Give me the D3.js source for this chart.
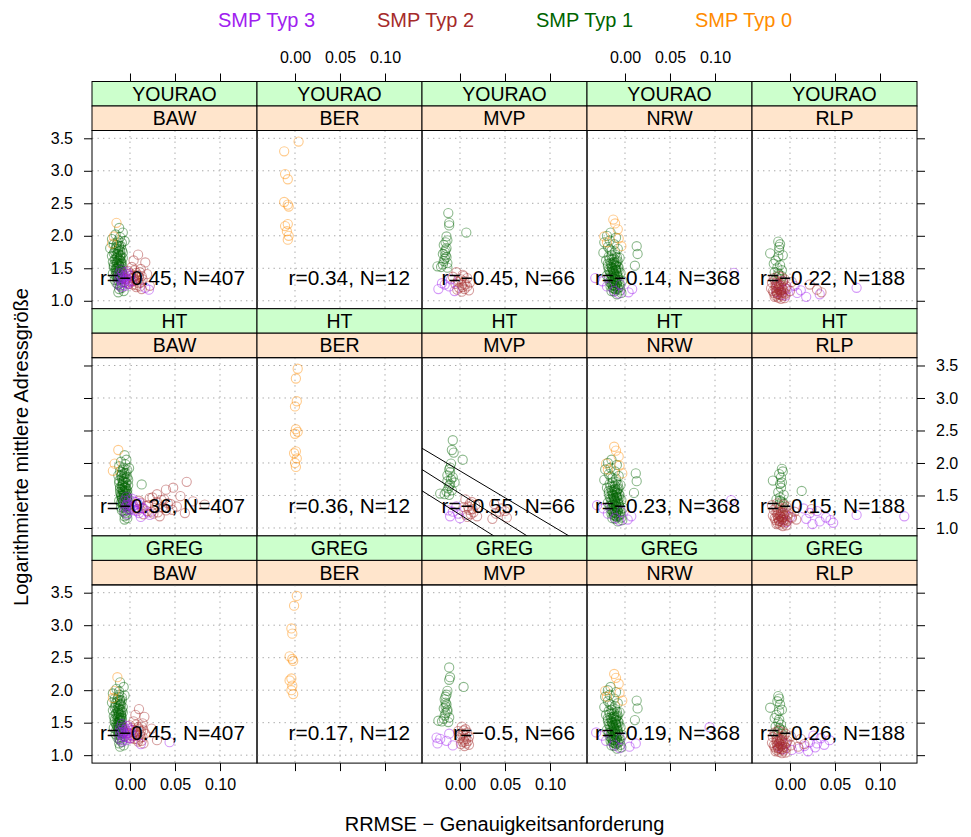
<!DOCTYPE html>
<html><head><meta charset="utf-8">
<script src="https://cdn.jsdelivr.net/npm/d3@7/dist/d3.min.js"></script>
<style>
body{margin:0;background:#fff}
text{font-family:"Liberation Sans",Arial,Helvetica,sans-serif;fill:#000}
</style>
</head><body>
<svg id="chart" width="971" height="837"></svg>
<script>
// ---- categories ----
const states = ["BAW", "BER", "MVP", "NRW", "RLP"];
const methods = ["YOURAO", "HT", "GREG"];
const typeLabels = ["SMP Typ 3", "SMP Typ 2", "SMP Typ 1", "SMP Typ 0"];
const typeOfLabel = [3, 2, 1, 0];
const typeColors = {0: "#FF8C00", 1: "#006400", 2: "#A52A2A", 3: "#A020F0"};

// ---- tick labels ----
const xTicks = [0.00, 0.05, 0.10];
const yTicks = [1.0, 1.5, 2.0, 2.5, 3.0, 3.5];

// ---- correlation and domain counts per panel ----
const rYOURAO = [-0.45, 0.34, -0.45, -0.14, -0.22];
const rHT     = [-0.36, 0.36, -0.55, -0.23, -0.15];
const rGREG   = [-0.45, 0.17, -0.5, -0.19, -0.26];
const nDomains = [407, 12, 66, 368, 188];

// ---- reference lines in HT / MVP panel: intercept, slope ----
const mvpHtLines = [[1.878, -8.26], [1.530, -8.75], [1.205, -8.70]];

// ---- points: [SMP type, log mean address size, x YOURAO, x HT, x GREG] ----
const BAW = [
  [1,2.12,-0.012,-0.006,-0.011],[1,2.05,-0.008,-0.004,-0.007],[1,2.02,-0.016,-0.010,-0.015],
  [1,1.98,-0.011,-0.005,-0.012],[1,1.95,-0.020,-0.012,-0.019],[1,1.92,-0.006,-0.001,-0.006],
  [1,1.90,-0.014,-0.008,-0.013],[1,1.87,-0.018,-0.011,-0.017],[1,1.84,-0.010,-0.004,-0.009],
  [1,1.81,-0.022,-0.013,-0.020],[1,1.79,-0.013,-0.007,-0.012],[1,1.76,-0.017,-0.009,-0.016],
  [1,1.74,-0.008,-0.002,-0.008],[1,1.71,-0.015,-0.008,-0.014],[1,1.69,-0.020,-0.012,-0.019],
  [1,1.67,-0.011,0.013,-0.010],[1,1.65,-0.016,-0.009,-0.015],[1,1.62,-0.013,-0.006,-0.012],
  [1,1.60,-0.019,-0.011,-0.018],[1,1.58,-0.009,-0.003,-0.009],[1,1.56,-0.015,-0.008,-0.014],
  [1,1.54,-0.012,-0.005,-0.011],[1,1.52,-0.018,-0.010,-0.017],[1,1.50,-0.014,-0.007,-0.013],
  [1,1.48,-0.010,-0.003,-0.010],[1,1.46,-0.016,-0.009,-0.015],[1,1.44,-0.012,-0.006,-0.012],
  [1,1.42,-0.019,-0.012,-0.018],[1,1.40,-0.008,-0.002,-0.008],[1,1.38,-0.014,-0.008,-0.013],
  [1,1.35,-0.011,-0.005,-0.010],[1,1.32,-0.017,-0.010,-0.016],[1,1.29,-0.006,0.000,-0.006],
  [1,1.25,-0.013,-0.007,-0.012],[1,1.20,-0.009,-0.004,-0.009],[1,1.15,-0.007,-0.003,-0.007],
  [1,1.13,-0.013,-0.006,-0.011],
  [1,1.93,-0.013,-0.007,-0.012],[1,1.89,-0.009,-0.003,-0.009],[1,1.86,-0.015,-0.009,-0.014],
  [1,1.83,-0.012,-0.006,-0.011],[1,1.80,-0.016,-0.010,-0.016],[1,1.78,-0.009,-0.003,-0.010],
  [1,1.75,-0.013,-0.007,-0.013],[1,1.73,-0.018,-0.012,-0.017],[1,1.70,-0.011,-0.005,-0.011],
  [1,1.68,-0.014,-0.008,-0.013],[1,1.66,-0.008,-0.002,-0.008],[1,1.64,-0.012,-0.006,-0.012],
  [1,1.63,-0.017,-0.011,-0.016],[1,1.61,-0.010,-0.004,-0.010],[1,1.59,-0.014,-0.008,-0.013],
  [1,1.57,-0.012,-0.006,-0.011],[1,1.55,-0.018,-0.011,-0.017],[1,1.53,-0.009,-0.003,-0.009],
  [1,1.51,-0.013,-0.007,-0.012],[1,1.49,-0.016,-0.010,-0.016],[1,1.47,-0.011,-0.005,-0.011],
  [1,1.45,-0.014,-0.008,-0.013],[1,1.43,-0.009,-0.003,-0.009],[1,1.41,-0.013,-0.007,-0.012],
  [1,1.39,-0.016,-0.010,-0.015],[1,1.37,-0.011,-0.005,-0.010],[1,1.36,-0.007,-0.001,-0.007],
  [1,1.34,-0.014,-0.008,-0.013],[1,1.33,-0.010,-0.004,-0.009],[1,1.31,-0.013,-0.007,-0.012],
  [1,1.28,-0.010,-0.004,-0.010],[1,1.27,-0.015,-0.009,-0.014],[1,1.23,-0.011,-0.005,-0.011],
  [1,1.18,-0.012,-0.006,-0.012],
  [1,1.85,-0.012,-0.006,-0.011],[1,1.82,-0.015,-0.009,-0.014],[1,1.77,-0.011,-0.005,-0.011],
  [1,1.72,-0.013,-0.007,-0.012],[1,1.69,-0.010,-0.004,-0.009],[1,1.66,-0.014,-0.008,-0.013],
  [1,1.62,-0.011,-0.005,-0.010],[1,1.60,-0.015,-0.009,-0.014],[1,1.57,-0.010,-0.004,-0.010],
  [1,1.55,-0.013,-0.007,-0.012],[1,1.52,-0.011,-0.005,-0.011],[1,1.50,-0.015,-0.009,-0.014],
  [1,1.48,-0.012,-0.006,-0.012],[1,1.46,-0.009,-0.003,-0.009],[1,1.44,-0.015,-0.009,-0.014],
  [1,1.42,-0.011,-0.005,-0.011],[1,1.40,-0.014,-0.008,-0.013],[1,1.38,-0.010,-0.004,-0.010],
  [1,1.36,-0.013,-0.007,-0.012],[1,1.34,-0.008,-0.002,-0.008],
  [2,1.71,0.009,0.063,0.010],[2,1.62,0.004,0.048,0.006],[2,1.59,0.017,0.040,0.016],
  [2,1.52,0.002,0.030,0.004],[2,1.49,0.012,0.056,0.014],[2,1.46,-0.002,0.022,0.000],
  [2,1.43,0.007,0.035,0.009],[2,1.41,0.019,0.070,0.024],[2,1.39,0.001,0.012,0.003],
  [2,1.37,0.010,0.045,0.012],[2,1.36,0.004,0.083,0.006],[2,1.34,-0.004,0.018,-0.002],
  [2,1.33,0.014,0.052,0.017],[2,1.31,0.006,0.028,0.008],[2,1.29,0.000,0.008,0.002],
  [2,1.27,0.010,0.040,0.012],[2,1.25,0.003,0.024,0.005],[2,1.23,0.022,0.061,0.030],
  [2,1.21,0.007,0.015,0.009],[2,1.18,0.013,0.033,0.015],
  [2,1.47,0.005,0.025,0.007],[2,1.44,0.011,0.038,0.013],[2,1.42,0.000,0.010,0.002],
  [2,1.40,0.008,0.030,0.010],[2,1.38,0.013,0.042,0.015],[2,1.35,0.002,0.020,0.004],
  [2,1.32,0.009,0.036,0.011],[2,1.30,0.004,0.014,0.006],[2,1.28,0.012,0.047,0.014],
  [2,1.26,-0.001,0.019,0.001],[2,1.24,0.007,0.031,0.009],[2,1.22,0.011,0.026,0.013],
  [3,1.48,-0.010,-0.004,-0.009],[3,1.45,-0.004,0.002,-0.003],[3,1.42,-0.012,-0.006,-0.011],
  [3,1.40,-0.006,0.006,-0.005],[3,1.38,0.000,0.011,0.001],[3,1.36,-0.009,-0.002,-0.008],
  [3,1.34,-0.003,0.004,-0.002],[3,1.32,-0.011,-0.005,-0.010],[3,1.30,0.002,0.015,0.004],
  [3,1.28,-0.007,0.000,-0.006],[3,1.26,-0.002,0.008,0.000],[3,1.24,-0.009,0.020,-0.008],
  [3,1.20,0.017,0.022,0.044],[3,1.17,0.021,0.012,0.012],
  [3,1.44,-0.008,-0.001,-0.007],[3,1.41,-0.002,0.004,-0.001],[3,1.39,-0.010,-0.003,-0.009],
  [3,1.37,-0.005,0.009,-0.004],[3,1.35,-0.012,-0.004,-0.011],[3,1.33,-0.006,0.002,-0.005],
  [3,1.31,-0.001,0.013,0.000],[3,1.29,-0.009,-0.002,-0.008],[3,1.27,-0.004,0.005,-0.003],
  [3,1.25,-0.013,-0.006,-0.012],[3,1.23,-0.005,0.010,-0.004],[3,1.21,-0.010,-0.003,-0.009],
  [0,2.20,-0.015,-0.013,-0.014],[0,1.99,-0.018,-0.017,-0.017],[0,1.88,-0.020,-0.019,-0.019]
];
const BER = [
  [0,3.45,0.004,0.003,0.002],[0,3.30,-0.012,0.001,-0.001],[0,2.95,-0.011,0.002,-0.004],
  [0,2.87,-0.008,0.000,-0.003],[0,2.52,-0.012,0.001,-0.006],[0,2.48,-0.008,0.003,-0.003],
  [0,2.45,-0.007,0.000,-0.002],[0,2.18,-0.008,0.001,-0.004],[0,2.15,-0.011,-0.001,-0.006],
  [0,2.07,-0.009,0.002,-0.003],[0,2.00,-0.007,0.000,-0.004],[0,1.94,-0.008,0.001,-0.002]
];
const MVP = [
  [1,2.35,-0.013,-0.008,-0.012],[1,2.20,-0.012,-0.009,-0.011],[1,2.16,-0.012,-0.007,-0.012],
  [1,2.05,0.007,0.003,0.004],[1,1.99,-0.015,-0.010,-0.014],[1,1.93,-0.014,-0.011,-0.015],
  [1,1.90,-0.016,-0.012,-0.016],[1,1.86,-0.018,-0.011,-0.017],[1,1.81,-0.015,-0.014,-0.016],
  [1,1.78,-0.016,-0.008,-0.015],[1,1.72,-0.019,-0.014,-0.018],[1,1.70,-0.016,-0.006,-0.014],
  [1,1.65,-0.017,-0.012,-0.016],[1,1.61,-0.018,-0.013,-0.017],[1,1.58,-0.014,-0.009,-0.012],
  [1,1.53,-0.025,-0.022,-0.024],[1,1.52,-0.021,-0.017,-0.020],[1,1.51,-0.014,-0.012,-0.013],
  [1,1.75,-0.017,-0.010,-0.016],[1,1.67,-0.015,-0.011,-0.014],[1,1.56,-0.019,-0.015,-0.018],
  [2,1.44,-0.004,0.006,0.002],[2,1.40,0.003,0.013,0.006],[2,1.37,-0.008,0.038,-0.002],
  [2,1.35,0.008,0.017,0.008],[2,1.32,-0.002,0.004,0.001],[2,1.30,0.005,0.046,0.006],
  [2,1.28,0.011,0.010,0.010],[2,1.26,-0.005,0.050,0.000],[2,1.24,0.002,0.015,0.004],
  [2,1.22,0.008,0.040,0.009],[2,1.20,-0.001,0.007,0.003],[2,1.18,0.005,0.019,0.007],
  [2,1.16,0.010,0.052,0.010],[2,1.14,0.002,0.036,0.005],
  [2,1.38,0.004,0.011,0.004],[2,1.33,0.001,0.009,0.003],[2,1.29,-0.002,0.014,0.000],
  [2,1.25,0.006,0.044,0.007],[2,1.21,0.003,0.012,0.005],[2,1.17,-0.003,0.008,0.001],
  [3,1.33,-0.010,-0.004,-0.012],[3,1.27,-0.020,-0.013,-0.026],[3,1.25,-0.017,-0.008,-0.022],
  [3,1.22,-0.012,-0.002,-0.015],[3,1.18,-0.024,-0.011,-0.025],[3,1.15,-0.006,0.000,-0.008]
];
const NRW = [
  [1,2.05,-0.016,-0.015,-0.016],[1,2.00,-0.020,-0.019,-0.019],[1,1.97,-0.010,-0.009,-0.010],
  [1,1.93,-0.017,-0.016,-0.017],[1,1.90,-0.023,-0.022,-0.022],[1,1.87,-0.012,-0.011,-0.012],
  [1,1.84,0.013,0.012,0.013],[1,1.83,-0.019,-0.018,-0.019],[1,1.80,-0.008,-0.007,-0.008],
  [1,1.77,-0.015,-0.014,-0.015],[1,1.74,-0.024,-0.023,-0.023],[1,1.72,0.014,0.013,0.014],
  [1,1.71,-0.011,-0.010,-0.011],[1,1.68,-0.018,-0.017,-0.018],[1,1.66,-0.006,-0.005,-0.006],
  [1,1.64,-0.014,-0.013,-0.014],[1,1.62,-0.021,-0.020,-0.021],[1,1.60,-0.009,-0.008,-0.009],
  [1,1.58,-0.016,-0.015,-0.016],[1,1.56,-0.012,-0.011,-0.012],[1,1.54,0.011,0.010,0.011],
  [1,1.53,-0.019,-0.018,-0.019],[1,1.51,-0.007,-0.006,-0.007],[1,1.49,-0.014,-0.013,-0.014],
  [1,1.47,-0.010,-0.009,-0.010],[1,1.45,-0.017,-0.016,-0.017],[1,1.43,-0.005,-0.004,-0.005],
  [1,1.41,-0.012,-0.011,-0.012],[1,1.39,-0.020,-0.019,-0.020],[1,1.37,-0.008,-0.007,-0.008],
  [1,1.35,-0.015,-0.014,-0.015],[1,1.33,-0.011,-0.010,-0.011],[1,1.31,-0.003,-0.002,-0.003],
  [1,1.29,-0.017,-0.016,-0.017],[1,1.27,-0.009,-0.008,-0.009],[1,1.24,-0.013,-0.012,-0.013],
  [1,1.21,-0.006,-0.005,-0.006],[1,1.18,-0.011,-0.010,-0.011],[1,1.15,-0.015,-0.014,-0.015],
  [1,1.12,-0.004,-0.003,-0.004],[1,1.10,-0.009,-0.008,-0.009],
  [1,1.65,-0.012,-0.011,-0.012],[1,1.63,-0.017,-0.016,-0.017],[1,1.61,-0.008,-0.007,-0.008],
  [1,1.59,-0.013,-0.012,-0.013],[1,1.57,-0.019,-0.018,-0.019],[1,1.55,-0.010,-0.009,-0.010],
  [1,1.52,-0.015,-0.014,-0.015],[1,1.50,-0.011,-0.010,-0.011],[1,1.48,-0.018,-0.017,-0.018],
  [1,1.46,-0.007,-0.006,-0.007],[1,1.44,-0.013,-0.012,-0.013],[1,1.42,-0.016,-0.015,-0.016],
  [1,1.40,-0.009,-0.008,-0.009],[1,1.38,-0.014,-0.013,-0.014],[1,1.36,-0.011,-0.010,-0.011],
  [1,1.34,-0.018,-0.017,-0.018],[1,1.32,-0.007,-0.006,-0.007],[1,1.30,-0.013,-0.012,-0.013],
  [1,1.28,-0.010,-0.009,-0.010],[1,1.26,-0.015,-0.014,-0.015],[1,1.25,-0.006,-0.005,-0.006],
  [1,1.23,-0.011,-0.010,-0.011],[1,1.22,-0.016,-0.015,-0.016],[1,1.20,-0.008,-0.007,-0.008],
  [1,1.19,-0.013,-0.012,-0.013],[1,1.17,-0.010,-0.009,-0.010],[1,1.16,-0.005,-0.004,-0.005],
  [1,1.14,-0.012,-0.011,-0.012],[1,1.76,-0.011,-0.010,-0.011],[1,1.79,-0.017,-0.016,-0.017],
  [1,1.70,-0.015,-0.014,-0.015],[1,1.67,-0.009,-0.008,-0.009],
  [1,1.60,-0.012,-0.011,-0.012],[1,1.58,-0.010,-0.009,-0.010],[1,1.56,-0.015,-0.014,-0.015],
  [1,1.54,-0.011,-0.010,-0.011],[1,1.52,-0.008,-0.007,-0.008],[1,1.50,-0.014,-0.013,-0.014],
  [1,1.48,-0.010,-0.009,-0.010],[1,1.46,-0.013,-0.012,-0.013],[1,1.44,-0.009,-0.008,-0.009],
  [1,1.42,-0.012,-0.011,-0.012],[1,1.40,-0.015,-0.014,-0.015],[1,1.38,-0.011,-0.010,-0.011],
  [1,1.36,-0.008,-0.007,-0.008],[1,1.34,-0.013,-0.012,-0.013],[1,1.32,-0.010,-0.009,-0.010],
  [1,1.30,-0.015,-0.014,-0.015],[1,1.28,-0.012,-0.011,-0.012],[1,1.26,-0.009,-0.008,-0.009],
  [1,1.24,-0.014,-0.013,-0.014],[1,1.22,-0.011,-0.010,-0.011],[1,1.20,-0.013,-0.012,-0.013],
  [1,1.18,-0.008,-0.007,-0.008],
  [3,1.43,0.121,0.118,0.094],[3,1.35,-0.033,-0.031,-0.032],[3,1.30,-0.025,-0.024,-0.025],
  [3,1.25,-0.005,-0.004,-0.005],[3,1.18,0.008,0.007,0.012],[3,1.15,-0.012,-0.011,-0.012],
  [3,1.13,0.004,0.003,0.005],[3,1.22,-0.020,-0.019,-0.021],[3,1.11,-0.007,-0.006,-0.006],
  [0,2.25,-0.013,-0.012,-0.012],[0,2.19,-0.011,-0.010,-0.010],[0,2.10,-0.008,-0.007,-0.007],
  [0,1.99,-0.023,-0.021,-0.022],[0,1.96,-0.007,-0.006,-0.006],[0,1.90,-0.020,-0.019,-0.020],
  [0,1.84,-0.004,-0.003,-0.003]
];
const RLP = [
  [1,1.91,-0.013,-0.009,-0.013],[1,1.87,-0.011,-0.008,-0.012],[1,1.83,-0.012,-0.012,-0.014],
  [1,1.78,-0.012,-0.010,-0.011],[1,1.73,-0.022,-0.019,-0.022],[1,1.70,-0.008,-0.009,-0.009],
  [1,1.68,-0.013,-0.011,-0.012],[1,1.62,-0.016,-0.010,-0.015],[1,1.57,-0.018,0.013,-0.017],
  [1,1.55,-0.011,-0.013,-0.012],[1,1.51,-0.014,-0.007,-0.013],[1,1.47,-0.009,-0.011,-0.010],
  [1,1.44,-0.017,-0.015,-0.016],[1,1.40,-0.012,-0.009,-0.011],[1,1.36,-0.015,-0.012,-0.014],
  [1,1.33,-0.010,-0.008,-0.009],[1,1.42,-0.013,-0.011,-0.012],[1,1.38,-0.009,-0.007,-0.008],
  [3,1.30,-0.008,0.015,0.026],[3,1.26,-0.014,0.030,0.034],[3,1.23,0.005,0.022,0.044],
  [3,1.20,0.074,0.074,0.022],[3,1.18,-0.003,0.127,0.030],[3,1.16,0.012,0.040,0.038],
  [3,1.14,-0.010,0.018,0.016],[3,1.12,0.008,0.045,0.028],[3,1.10,0.033,0.033,0.010],
  [3,1.08,-0.005,0.048,0.002],[3,1.06,0.018,0.025,0.020],
  [3,1.22,-0.012,-0.006,-0.010],[3,1.17,-0.007,0.000,-0.005],[3,1.13,-0.015,-0.009,-0.012],
  [3,1.09,-0.009,-0.004,-0.008],
  [2,1.38,-0.012,-0.014,-0.013],[2,1.35,-0.018,-0.020,-0.017],[2,1.33,-0.006,-0.004,-0.005],
  [2,1.31,-0.014,-0.011,-0.013],[2,1.29,0.002,0.024,0.001],[2,1.28,-0.020,-0.018,-0.019],
  [2,1.26,-0.010,-0.008,-0.009],[2,1.25,0.022,0.005,0.012],[2,1.24,-0.016,-0.015,-0.015],
  [2,1.22,-0.004,-0.002,-0.003],[2,1.21,-0.013,-0.011,-0.012],[2,1.19,-0.021,-0.019,-0.020],
  [2,1.18,-0.008,-0.006,-0.007],[2,1.17,0.030,0.002,0.016],[2,1.16,-0.015,-0.013,-0.014],
  [2,1.15,0.000,0.002,0.001],[2,1.14,-0.011,-0.009,-0.010],[2,1.13,0.035,0.007,0.009],
  [2,1.12,-0.018,-0.016,-0.017],[2,1.11,-0.005,-0.003,-0.004],[2,1.10,-0.012,-0.010,-0.011],
  [2,1.08,-0.016,-0.014,-0.015],[2,1.07,-0.008,-0.006,-0.007],[2,1.05,-0.013,-0.011,-0.012],
  [2,1.03,-0.010,-0.008,-0.009],
  [2,1.36,-0.009,-0.007,-0.008],[2,1.32,-0.017,-0.015,-0.016],[2,1.30,-0.008,-0.006,-0.007],
  [2,1.27,-0.015,-0.013,-0.014],[2,1.23,-0.010,-0.008,-0.009],[2,1.20,-0.016,-0.014,-0.015],
  [2,1.19,-0.005,-0.003,-0.004],[2,1.17,-0.012,-0.010,-0.011],[2,1.15,-0.019,-0.017,-0.018],
  [2,1.13,-0.007,-0.005,-0.006],[2,1.11,-0.014,-0.012,-0.013],[2,1.09,-0.010,-0.008,-0.009],
  [2,1.06,-0.017,-0.015,-0.016],[2,1.04,-0.006,-0.004,-0.005],
  [2,1.25,-0.012,-0.010,-0.011],[2,1.22,-0.015,-0.013,-0.014],[2,1.20,-0.009,-0.007,-0.008],
  [2,1.18,-0.013,-0.011,-0.012],[2,1.16,-0.010,-0.008,-0.009],[2,1.14,-0.015,-0.013,-0.014],
  [2,1.12,-0.009,-0.007,-0.008],[2,1.10,-0.014,-0.012,-0.013]
];
const pointsByState = {BAW, BER, MVP, NRW, RLP};
const rByMethod = {YOURAO: rYOURAO, HT: rHT, GREG: rGREG};

// ---- layout ----
const svg = d3.select("#chart");
const gridLeft = 92, colW = 165, gridTop = 81.5, rowH = 227.2, stripH = 24.5;
const panelH = rowH - 2 * stripH;
const tickLen = 8;

const x = d3.scaleLinear().domain([-0.0422, 0.1411]).range([0, colW]);
const y = d3.scaleLinear().domain([0.878, 3.62]).range([panelH, 0]);

const fmtX = d3.format(".2f");
const fmtY = d3.format(".1f");
const fmtR = r => "r=" + (r < 0 ? "\u2212" : "") + Math.abs(r);

// legend
const legendX = d3.scalePoint().domain(typeLabels).range([266.5, 743.5]);
svg.append("g").selectAll("text").data(typeLabels).join("text")
  .attr("x", d => legendX(d)).attr("y", 26.5)
  .attr("text-anchor", "middle").style("font-size", "20px")
  .style("fill", (d, i) => typeColors[typeOfLabel[i]])
  .text(d => d);

methods.forEach((m, i) => {
  states.forEach((s, j) => {
    const g = svg.append("g")
      .attr("transform", `translate(${gridLeft + j * colW},${gridTop + i * rowH})`);

    // strips
    g.append("rect").attr("width", colW).attr("height", stripH)
      .attr("fill", "#ccffcc").attr("stroke", "#000");
    g.append("text").attr("x", colW / 2).attr("y", stripH / 2 + 7)
      .attr("text-anchor", "middle").style("font-size", "19.5px").text(m);
    g.append("rect").attr("y", stripH).attr("width", colW).attr("height", stripH)
      .attr("fill", "#ffe5cc").attr("stroke", "#000");
    g.append("text").attr("x", colW / 2).attr("y", stripH * 1.5 + 7)
      .attr("text-anchor", "middle").style("font-size", "19.5px").text(s);

    const p = g.append("g").attr("transform", `translate(0,${2 * stripH})`);
    const clipId = `clip-${i}-${j}`;
    p.append("clipPath").attr("id", clipId)
      .append("rect").attr("width", colW).attr("height", panelH);
    const inner = p.append("g").attr("clip-path", `url(#${clipId})`);

    // dotted reference grid
    inner.selectAll(".gx").data(xTicks).join("line").attr("class", "gx")
      .attr("x1", d => x(d)).attr("x2", d => x(d)).attr("y1", 0).attr("y2", panelH)
      .attr("stroke", "#a8a8a8").attr("stroke-dasharray", "1.4,4.1");
    inner.selectAll(".gy").data(yTicks).join("line").attr("class", "gy")
      .attr("y1", d => y(d)).attr("y2", d => y(d)).attr("x1", 0).attr("x2", colW)
      .attr("stroke", "#a8a8a8").attr("stroke-dasharray", "1.4,4.1");

    // points
    const col = 2 + i;
    inner.selectAll("circle").data(pointsByState[s]).join("circle")
      .attr("cx", d => x(d[col])).attr("cy", d => y(d[1])).attr("r", 4.6)
      .attr("fill", "none").attr("stroke", d => typeColors[d[0]])
      .attr("stroke-opacity", 0.45).attr("stroke-width", 1.1);

    // reference lines
    if (m === "HT" && s === "MVP") {
      const [x0, x1] = x.domain();
      inner.selectAll(".ab").data(mvpHtLines).join("line").attr("class", "ab")
        .attr("x1", x(x0)).attr("y1", d => y(d[0] + d[1] * x0))
        .attr("x2", x(x1)).attr("y2", d => y(d[0] + d[1] * x1))
        .attr("stroke", "#000").attr("stroke-width", 1);
    }

    // correlation label
    p.append("text").attr("x", colW - 12).attr("y", y(1.235))
      .attr("text-anchor", "end").style("font-size", "20.8px")
      .text(`${fmtR(rByMethod[m][j])}, N=${nDomains[j]}`);

    p.append("rect").attr("width", colW).attr("height", panelH)
      .attr("fill", "none").attr("stroke", "#000");

    // axes
    const styleAxis = a => {
      a.select(".domain").remove();
      a.selectAll("text").style("font-size", "16px").style("font-family", null);
      a.selectAll("line").attr("stroke", "#000");
      a.attr("font-family", null).attr("font-size", null);
    };
    if (i === methods.length - 1) {
      p.append("g").attr("transform", `translate(0,${panelH})`)
        .call(d3.axisBottom(x).tickValues(xTicks).tickSize(tickLen).tickPadding(8)
          .tickFormat(j % 2 === 0 ? fmtX : () => ""))
        .call(styleAxis);
    }
    if (i === 0) {
      g.append("g")
        .call(d3.axisTop(x).tickValues(xTicks).tickSize(tickLen).tickPadding(11)
          .tickFormat(j % 2 === 1 ? fmtX : () => ""))
        .call(styleAxis);
    }
    if (j === 0) {
      p.append("g")
        .call(d3.axisLeft(y).tickValues(yTicks).tickSize(tickLen).tickPadding(11)
          .tickFormat(i !== 1 ? fmtY : () => ""))
        .call(styleAxis);
    }
    if (j === states.length - 1) {
      p.append("g").attr("transform", `translate(${colW},0)`)
        .call(d3.axisRight(y).tickValues(yTicks).tickSize(tickLen).tickPadding(11)
          .tickFormat(i === 1 ? fmtY : () => ""))
        .call(styleAxis);
    }
  });
});

// axis titles
svg.append("text").attr("x", gridLeft + colW * 2.5).attr("y", 831)
  .attr("text-anchor", "middle").style("font-size", "20px")
  .text("RRMSE \u2212 Genauigkeitsanforderung");
svg.append("text").attr("transform", "translate(28,447) rotate(-90)")
  .attr("text-anchor", "middle").style("font-size", "20px")
  .text("Logarithmierte mittlere Adressgröße");
</script>
</body></html>
